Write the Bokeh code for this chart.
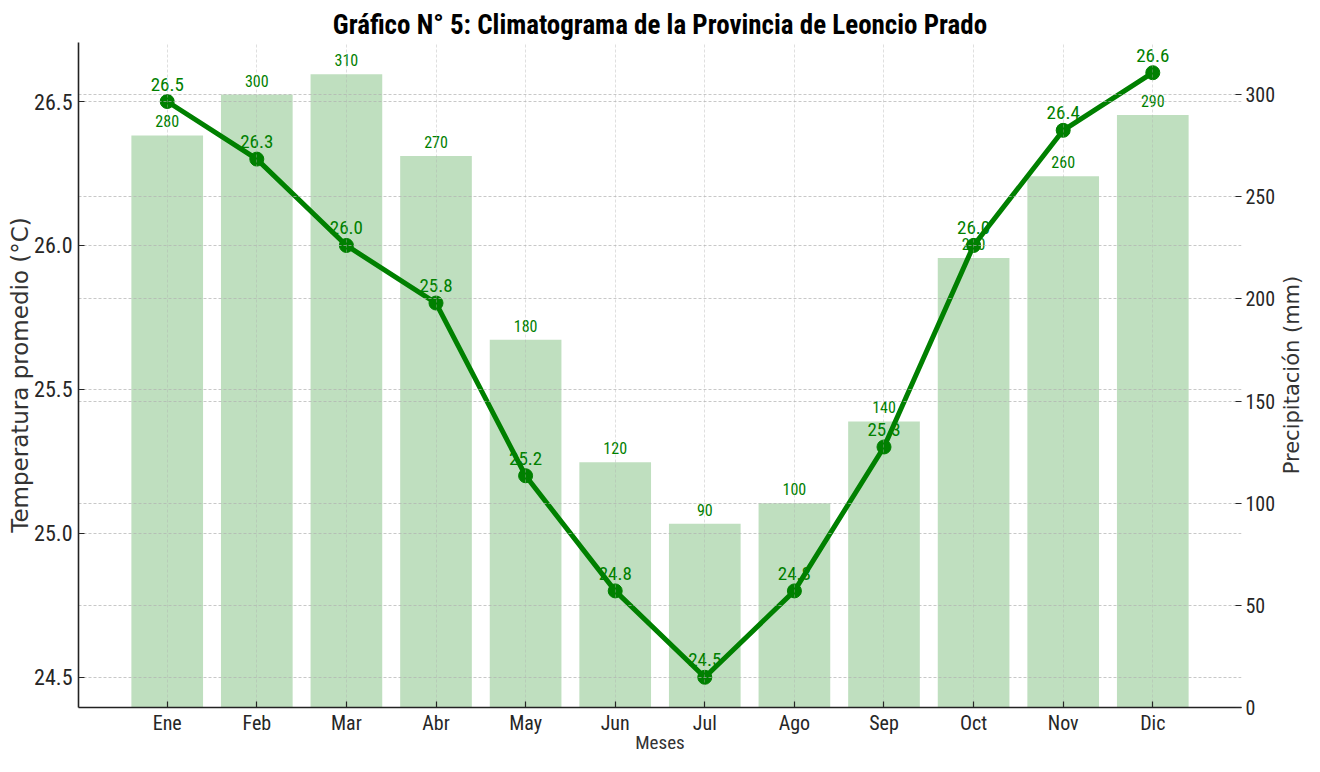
import math
from bokeh.plotting import figure
from bokeh.layouts import row
from bokeh.models import (Range1d, LinearAxis, Grid, FixedTicker, ColumnDataSource,
                          NumeralTickFormatter)
from bokeh.core.properties import value
from bokeh.embed import file_html
from bokeh.resources import INLINE

months = ["Ene", "Feb", "Mar", "Abr", "May", "Jun", "Jul", "Ago", "Sep", "Oct", "Nov", "Dic"]
temperature = [26.5, 26.3, 26.0, 25.8, 25.2, 24.8, 24.5, 24.8, 25.3, 26.0, 26.4, 26.6]
precipitation = [280, 300, 310, 270, 180, 120, 90, 100, 140, 220, 260, 290]
temp_ticks = [24.5, 25.0, 25.5, 26.0, 26.5]
precip_ticks = [0, 50, 100, 150, 200, 250, 300]

idx = list(range(len(months)))
src = ColumnDataSource(dict(
    x=idx, temp=temperature, precip=precipitation,
    temp_lbl=[f"{t:.1f}" for t in temperature],
    precip_lbl=[str(v) for v in precipitation],
))

NARROW = "Roboto Condensed, DejaVu Sans Condensed, DejaVu Sans"
TITLE_FONT = "Roboto Condensed, DejaVu Sans Condensed, Roboto"
GREEN = "#008000"
TOP, BOTTOM = 42, 48

precip_range = Range1d(0, 325.5)

p = figure(width=1278, height=756,
           x_range=Range1d(-0.99, 11.99), y_range=Range1d(24.395, 26.705),
           output_backend="svg", toolbar_location=None,
           min_border_left=78, min_border_right=34, min_border_top=TOP, min_border_bottom=BOTTOM,
           title="Gráfico N° 5: Climatograma de la Provincia de Leoncio Prado")
p.extra_y_ranges = {"precip": precip_range}
p.outline_line_color = None

p.title.align = "center"
p.title.text_font = TITLE_FONT
p.title.text_font_style = "bold"
p.title.text_font_size = "27px"
p.title.text_color = "black"
p.title.standoff = 3

# axes
p.xaxis.ticker = FixedTicker(ticks=idx)
p.xaxis.major_label_overrides = {i: m for i, m in zip(idx, months)}
p.xaxis.axis_label = "Meses"
p.yaxis.ticker = FixedTicker(ticks=temp_ticks)
p.yaxis.formatter = NumeralTickFormatter(format="0.0")
p.yaxis.axis_label = "Temperatura promedio (°C)"

ax_r = LinearAxis(y_range_name="precip", ticker=FixedTicker(ticks=precip_ticks))
p.add_layout(ax_r, "right")

for ax in [p.xaxis[0], p.yaxis[0], ax_r]:
    ax.major_tick_in = 6
    ax.major_tick_out = 0
    ax.minor_tick_in = 0
    ax.minor_tick_out = 0
    ax.major_tick_line_color = "#262626"
    ax.major_tick_line_width = 1.2
    ax.major_label_text_font = NARROW
    ax.major_label_text_font_size = "22px"
    ax.major_label_text_color = "#262626"
    ax.major_label_standoff = 6
    ax.axis_label_text_font_style = "normal"
    ax.axis_label_text_color = "#333333"
    ax.axis_line_color = "#222222"
    ax.axis_line_width = 1.6
    ax.axis_label_standoff = 0

ax_r.axis_line_color = None
ax_r.major_label_standoff = 4
ax_r.major_label_text_font_size = "20px"
p.xaxis.major_label_standoff = 3
p.xaxis.major_label_text_font_size = "20px"
p.xaxis.axis_label_text_font = NARROW
p.xaxis.axis_label_text_font_size = "19px"
p.xaxis.axis_label_standoff = -7
p.yaxis.axis_label_text_font = "DejaVu Sans"
p.yaxis.axis_label_text_font_size = "23px"
p.yaxis.axis_label_standoff = -2

# grids
for g in [p.xgrid[0], p.ygrid[0]]:
    g.grid_line_color = "#b0b0b0"
    g.grid_line_dash = "3 2"
    g.level = "glyph"
p.xgrid.grid_line_alpha = 0.4
p.ygrid.grid_line_alpha = 0.7
g2 = Grid(dimension=1, ticker=ax_r.ticker, y_range_name="precip",
          grid_line_color="#b0b0b0", grid_line_dash="3 2", grid_line_alpha=0.7, level="glyph")
p.add_layout(g2, "center")

# bars
p.vbar(x="x", top="precip", width=0.8, source=src, y_range_name="precip",
       fill_color=GREEN, fill_alpha=0.25, line_color=None, level="underlay")
p.text(x="x", y="precip", text="precip_lbl", source=src, y_range_name="precip",
       text_align="center", text_baseline="bottom", y_offset=-8,
       text_font=value(NARROW), text_font_size="16px", text_color=GREEN)

# temperature line
p.line(x="x", y="temp", source=src, line_color=GREEN, line_width=5)
p.scatter(x="x", y="temp", source=src, size=14, fill_color=GREEN, line_color=GREEN)
p.text(x="x", y="temp", text="temp_lbl", source=src,
       text_align="center", text_baseline="bottom", y_offset=-11,
       text_font=value(NARROW), text_font_size="19px", text_color=GREEN)

# narrow strip on the right that carries the right axis title (reads bottom-to-top)
p2 = figure(width=26, height=756, x_range=Range1d(0, 1), y_range=precip_range,
            output_backend="svg", toolbar_location=None,
            x_axis_location=None, y_axis_location=None,
            min_border_left=0, min_border_right=0, min_border_top=TOP, min_border_bottom=BOTTOM)
p2.outline_line_color = None
p2.grid.visible = False
p2.text(x=[0.5], y=[(precip_range.start + precip_range.end) / 2], text=["Precipitación (mm)"],
        angle=math.pi / 2, text_align="center", text_baseline="middle",
        text_font=value("DejaVu Sans"), text_font_size="21px", text_color="#333333")

layout = row(p, p2, spacing=0)
open("out.html", "w").write(file_html(layout, INLINE))
